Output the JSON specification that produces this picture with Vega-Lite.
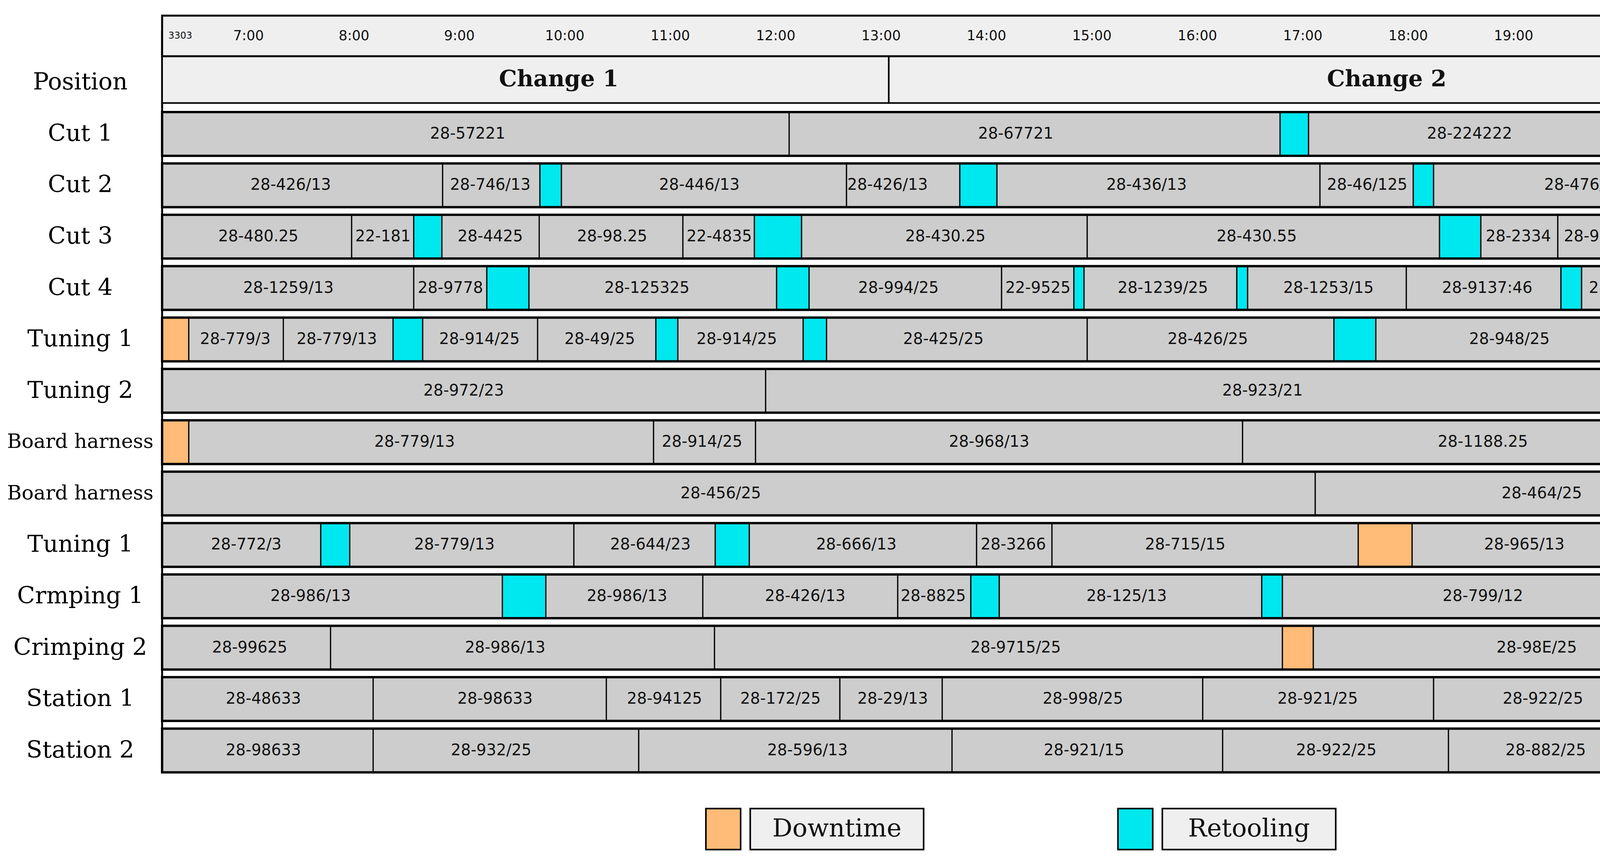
{
  "$schema": "https://vega.github.io/schema/vega-lite/v6.json",
  "width": 4302,
  "height": 2215,
  "autosize": {"type": "fit", "contains": "padding"},
  "padding": {"left": 0, "top": 14, "right": 26, "bottom": 34},
  "background": "white",
  "config": {
    "view": {"stroke": null},
    "axisY": {
      "domain": false, "ticks": false, "grid": false,
      "labelFont": "DejaVu Serif", "labelFontSize": 60, "labelColor": "#000",
      "labelAlign": "center", "labelBaseline": "middle", "labelPadding": 210,
      "labelLimit": 0, "minExtent": 415, "maxExtent": 415
    }
  },
  "datasets": {
    "ticks": [
      {"h": 6.352, "label": "3303"},
      {"h": 7, "label": "7:00"}, {"h": 8, "label": "8:00"}, {"h": 9, "label": "9:00"},
      {"h": 10, "label": "10:00"}, {"h": 11, "label": "11:00"}, {"h": 12, "label": "12:00"},
      {"h": 13, "label": "13:00"}, {"h": 14, "label": "14:00"}, {"h": 15, "label": "15:00"},
      {"h": 16, "label": "16:00"}, {"h": 17, "label": "17:00"}, {"h": 18, "label": "18:00"},
      {"h": 19, "label": "19:00"}, {"h": 20, "label": "21:00"}
    ],
    "changes": [
      {"name": "Change 1", "start": 6.18, "end": 13.073, "lx": 9.942},
      {"name": "Change 2", "start": 13.073, "end": 20.475, "lx": 17.796}
    ],
    "legend": [{"type": "Downtime"}, {"type": "Retooling"}],
    "tasks": [
      {"pos": "Cut 1", "start": 6.18, "end": 12.128, "type": "Job", "label": "28-57221", "lx": 9.079},
      {"pos": "Cut 1", "start": 12.128, "end": 16.785, "type": "Job", "label": "28-67721", "lx": 14.277},
      {"pos": "Cut 1", "start": 16.785, "end": 17.055, "type": "Retooling"},
      {"pos": "Cut 1", "start": 17.055, "end": 20.475, "type": "Job", "label": "28-224222", "lx": 18.582},

      {"pos": "Cut 2", "start": 6.18, "end": 8.841, "type": "Job", "label": "28-426/13", "lx": 7.4},
      {"pos": "Cut 2", "start": 8.841, "end": 9.764, "type": "Job", "label": "28-746/13", "lx": 9.293},
      {"pos": "Cut 2", "start": 9.764, "end": 9.968, "type": "Retooling"},
      {"pos": "Cut 2", "start": 9.968, "end": 12.672, "type": "Job", "label": "28-446/13", "lx": 11.276},
      {"pos": "Cut 2", "start": 12.672, "end": 13.747, "type": "Job", "label": "28-426/13", "lx": 13.061},
      {"pos": "Cut 2", "start": 13.747, "end": 14.099, "type": "Retooling"},
      {"pos": "Cut 2", "start": 14.099, "end": 17.163, "type": "Job", "label": "28-436/13", "lx": 15.518},
      {"pos": "Cut 2", "start": 17.163, "end": 18.048, "type": "Job", "label": "28-46/125", "lx": 17.611},
      {"pos": "Cut 2", "start": 18.048, "end": 18.241, "type": "Retooling"},
      {"pos": "Cut 2", "start": 18.241, "end": 20.201, "type": "Job", "label": "28-476/13", "lx": 19.671},
      {"pos": "Cut 2", "start": 20.201, "end": 20.475, "type": "Downtime"},

      {"pos": "Cut 3", "start": 6.18, "end": 7.978, "type": "Job", "label": "28-480.25", "lx": 7.093},
      {"pos": "Cut 3", "start": 7.978, "end": 8.567, "type": "Job", "label": "22-181", "lx": 8.275},
      {"pos": "Cut 3", "start": 8.567, "end": 8.834, "type": "Retooling"},
      {"pos": "Cut 3", "start": 8.834, "end": 9.757, "type": "Job", "label": "28-4425", "lx": 9.293},
      {"pos": "Cut 3", "start": 9.757, "end": 11.12, "type": "Job", "label": "28-98.25", "lx": 10.449},
      {"pos": "Cut 3", "start": 11.12, "end": 11.798, "type": "Job", "label": "22-4835", "lx": 11.465},
      {"pos": "Cut 3", "start": 11.798, "end": 12.246, "type": "Retooling"},
      {"pos": "Cut 3", "start": 12.246, "end": 14.955, "type": "Job", "label": "28-430.25", "lx": 13.61},
      {"pos": "Cut 3", "start": 14.955, "end": 18.297, "type": "Job", "label": "28-430.55", "lx": 16.563},
      {"pos": "Cut 3", "start": 18.297, "end": 18.689, "type": "Retooling"},
      {"pos": "Cut 3", "start": 18.689, "end": 19.419, "type": "Job", "label": "28-2334", "lx": 19.045},
      {"pos": "Cut 3", "start": 19.419, "end": 20.475, "type": "Job", "label": "28-9352:37", "lx": 19.905},

      {"pos": "Cut 4", "start": 6.18, "end": 8.567, "type": "Job", "label": "28-1259/13", "lx": 7.378},
      {"pos": "Cut 4", "start": 8.567, "end": 9.26, "type": "Job", "label": "28-9778", "lx": 8.915},
      {"pos": "Cut 4", "start": 9.26, "end": 9.66, "type": "Retooling"},
      {"pos": "Cut 4", "start": 9.66, "end": 12.009, "type": "Job", "label": "28-125325", "lx": 10.779},
      {"pos": "Cut 4", "start": 12.009, "end": 12.317, "type": "Retooling"},
      {"pos": "Cut 4", "start": 12.317, "end": 14.143, "type": "Job", "label": "28-994/25", "lx": 13.165},
      {"pos": "Cut 4", "start": 14.143, "end": 14.829, "type": "Job", "label": "22-9525", "lx": 14.488},
      {"pos": "Cut 4", "start": 14.829, "end": 14.925, "type": "Retooling"},
      {"pos": "Cut 4", "start": 14.925, "end": 16.374, "type": "Job", "label": "28-1239/25", "lx": 15.673},
      {"pos": "Cut 4", "start": 16.374, "end": 16.477, "type": "Retooling"},
      {"pos": "Cut 4", "start": 16.477, "end": 17.982, "type": "Job", "label": "28-1253/15", "lx": 17.244},
      {"pos": "Cut 4", "start": 17.982, "end": 19.449, "type": "Job", "label": "28-9137:46", "lx": 18.749},
      {"pos": "Cut 4", "start": 19.449, "end": 19.645, "type": "Retooling"},
      {"pos": "Cut 4", "start": 19.645, "end": 20.475, "type": "Job", "label": "28-9725", "lx": 20.023},

      {"pos": "Tuning 1", "start": 6.18, "end": 6.433, "type": "Downtime"},
      {"pos": "Tuning 1", "start": 6.433, "end": 7.33, "type": "Job", "label": "28-779/3", "lx": 6.874},
      {"pos": "Tuning 1", "start": 7.33, "end": 8.371, "type": "Job", "label": "28-779/13", "lx": 7.837},
      {"pos": "Tuning 1", "start": 8.371, "end": 8.652, "type": "Retooling"},
      {"pos": "Tuning 1", "start": 8.652, "end": 9.742, "type": "Job", "label": "28-914/25", "lx": 9.19},
      {"pos": "Tuning 1", "start": 9.742, "end": 10.864, "type": "Job", "label": "28-49/25", "lx": 10.331},
      {"pos": "Tuning 1", "start": 10.864, "end": 11.072, "type": "Retooling"},
      {"pos": "Tuning 1", "start": 11.072, "end": 12.261, "type": "Job", "label": "28-914/25", "lx": 11.631},
      {"pos": "Tuning 1", "start": 12.261, "end": 12.483, "type": "Retooling"},
      {"pos": "Tuning 1", "start": 12.483, "end": 14.955, "type": "Job", "label": "28-425/25", "lx": 13.591},
      {"pos": "Tuning 1", "start": 14.955, "end": 17.296, "type": "Job", "label": "28-426/25", "lx": 16.099},
      {"pos": "Tuning 1", "start": 17.296, "end": 17.693, "type": "Retooling"},
      {"pos": "Tuning 1", "start": 17.693, "end": 20.201, "type": "Job", "label": "28-948/25", "lx": 18.96},
      {"pos": "Tuning 1", "start": 20.201, "end": 20.475, "type": "Downtime"},

      {"pos": "Tuning 2", "start": 6.18, "end": 11.905, "type": "Job", "label": "28-972/23", "lx": 9.041},
      {"pos": "Tuning 2", "start": 11.905, "end": 20.475, "type": "Job", "label": "28-923/21", "lx": 16.618},

      {"pos": "Board harness", "start": 6.18, "end": 6.433, "type": "Downtime"},
      {"pos": "Board harness", "start": 6.433, "end": 10.842, "type": "Job", "label": "28-779/13", "lx": 8.575},
      {"pos": "Board harness", "start": 10.842, "end": 11.809, "type": "Job", "label": "28-914/25", "lx": 11.302},
      {"pos": "Board harness", "start": 11.809, "end": 16.429, "type": "Job", "label": "28-968/13", "lx": 14.025},
      {"pos": "Board harness", "start": 16.429, "end": 20.475, "type": "Job", "label": "28-1188.25", "lx": 18.708},

      {"pos": "Board harness#2", "start": 6.18, "end": 17.118, "type": "Job", "label": "28-456/25", "lx": 11.479},
      {"pos": "Board harness#2", "start": 17.118, "end": 20.475, "type": "Job", "label": "28-464/25", "lx": 19.267},

      {"pos": "Tuning 1#2", "start": 6.18, "end": 7.685, "type": "Job", "label": "28-772/3", "lx": 6.978},
      {"pos": "Tuning 1#2", "start": 7.685, "end": 7.96, "type": "Retooling"},
      {"pos": "Tuning 1#2", "start": 7.96, "end": 10.086, "type": "Job", "label": "28-779/13", "lx": 8.953},
      {"pos": "Tuning 1#2", "start": 10.086, "end": 11.427, "type": "Job", "label": "28-644/23", "lx": 10.812},
      {"pos": "Tuning 1#2", "start": 11.427, "end": 11.75, "type": "Retooling"},
      {"pos": "Tuning 1#2", "start": 11.75, "end": 13.906, "type": "Job", "label": "28-666/13", "lx": 12.765},
      {"pos": "Tuning 1#2", "start": 13.906, "end": 14.621, "type": "Job", "label": "28-3266", "lx": 14.254},
      {"pos": "Tuning 1#2", "start": 14.621, "end": 17.526, "type": "Job", "label": "28-715/15", "lx": 15.885},
      {"pos": "Tuning 1#2", "start": 17.526, "end": 18.037, "type": "Downtime"},
      {"pos": "Tuning 1#2", "start": 18.037, "end": 19.964, "type": "Job", "label": "28-965/13", "lx": 19.101},
      {"pos": "Tuning 1#2", "start": 19.964, "end": 20.475, "type": "Job", "label": "28-96", "lx": 20.215},

      {"pos": "Crmping 1", "start": 6.18, "end": 9.408, "type": "Job", "label": "28-986/13", "lx": 7.589},
      {"pos": "Crmping 1", "start": 9.408, "end": 9.82, "type": "Retooling"},
      {"pos": "Crmping 1", "start": 9.82, "end": 11.309, "type": "Job", "label": "28-986/13", "lx": 10.59},
      {"pos": "Crmping 1", "start": 11.309, "end": 13.158, "type": "Job", "label": "28-426/13", "lx": 12.28},
      {"pos": "Crmping 1", "start": 13.158, "end": 13.851, "type": "Job", "label": "28-8825", "lx": 13.495},
      {"pos": "Crmping 1", "start": 13.851, "end": 14.121, "type": "Retooling"},
      {"pos": "Crmping 1", "start": 14.121, "end": 16.611, "type": "Job", "label": "28-125/13", "lx": 15.329},
      {"pos": "Crmping 1", "start": 16.611, "end": 16.807, "type": "Retooling"},
      {"pos": "Crmping 1", "start": 16.807, "end": 20.201, "type": "Job", "label": "28-799/12", "lx": 18.708},
      {"pos": "Crmping 1", "start": 20.201, "end": 20.475, "type": "Job"},

      {"pos": "Crimping 2", "start": 6.18, "end": 7.778, "type": "Job", "label": "28-99625", "lx": 7.011},
      {"pos": "Crimping 2", "start": 7.778, "end": 11.42, "type": "Job", "label": "28-986/13", "lx": 9.434},
      {"pos": "Crimping 2", "start": 11.42, "end": 16.807, "type": "Job", "label": "28-9715/25", "lx": 14.277},
      {"pos": "Crimping 2", "start": 16.807, "end": 17.1, "type": "Downtime"},
      {"pos": "Crimping 2", "start": 17.1, "end": 20.475, "type": "Job", "label": "28-98E/25", "lx": 19.219},

      {"pos": "Station 1", "start": 6.18, "end": 8.182, "type": "Job", "label": "28-48633", "lx": 7.141},
      {"pos": "Station 1", "start": 8.182, "end": 10.394, "type": "Job", "label": "28-98633", "lx": 9.338},
      {"pos": "Station 1", "start": 10.394, "end": 11.479, "type": "Job", "label": "28-94125", "lx": 10.946},
      {"pos": "Station 1", "start": 11.479, "end": 12.609, "type": "Job", "label": "28-172/25", "lx": 12.046},
      {"pos": "Station 1", "start": 12.609, "end": 13.58, "type": "Job", "label": "28-29/13", "lx": 13.11},
      {"pos": "Station 1", "start": 13.58, "end": 16.051, "type": "Job", "label": "28-998/25", "lx": 14.914},
      {"pos": "Station 1", "start": 16.051, "end": 18.241, "type": "Job", "label": "28-921/25", "lx": 17.141},
      {"pos": "Station 1", "start": 18.241, "end": 20.201, "type": "Job", "label": "28-922/25", "lx": 19.278},
      {"pos": "Station 1", "start": 20.201, "end": 20.475, "type": "Downtime"},

      {"pos": "Station 2", "start": 6.18, "end": 8.182, "type": "Job", "label": "28-98633", "lx": 7.141},
      {"pos": "Station 2", "start": 8.182, "end": 10.701, "type": "Job", "label": "28-932/25", "lx": 9.301},
      {"pos": "Station 2", "start": 10.701, "end": 13.673, "type": "Job", "label": "28-596/13", "lx": 12.302},
      {"pos": "Station 2", "start": 13.673, "end": 16.24, "type": "Job", "label": "28-921/15", "lx": 14.925},
      {"pos": "Station 2", "start": 16.24, "end": 18.382, "type": "Job", "label": "28-922/25", "lx": 17.318},
      {"pos": "Station 2", "start": 18.382, "end": 19.86, "type": "Job", "label": "28-882/25", "lx": 19.304},
      {"pos": "Station 2", "start": 19.86, "end": 20.475, "type": "Downtime"}
    ]
  },
  "resolve": {"scale": {"x": "independent"}},
  "layer": [
    {
      "data": {"name": "tasks"},
      "mark": {"type": "bar", "height": 112, "stroke": "black", "strokeWidth": 3},
      "encoding": {
        "x": {"field": "start", "type": "quantitative", "scale": {"domain": [6.18, 20.475], "nice": false, "zero": false}, "axis": null},
        "x2": {"field": "end"},
        "y": {
          "field": "pos", "type": "nominal", "sort": null, "title": null,
          "scale": {
            "domain": ["time", "Position", "Cut 1", "Cut 2", "Cut 3", "Cut 4", "Tuning 1", "Tuning 2", "Board harness", "Board harness#2", "Tuning 1#2", "Crmping 1", "Crimping 2", "Station 1", "Station 2", "legend"],
            "paddingInner": 0, "paddingOuter": 0
          },
          "axis": {
            "title": null,
            "labelExpr": "datum.value == 'time' || datum.value == 'legend' ? '' : split(datum.value, '#')[0]",
            "labelFontSize": {"condition": {"test": "indexof(datum.value, 'Board') == 0", "value": 51}, "value": 60}
          }
        },
        "color": {
          "field": "type", "type": "nominal",
          "scale": {"domain": ["Job", "Downtime", "Retooling"], "range": ["#cdcdcd", "#ffbb77", "#00e8ef"]},
          "legend": null
        }
      }
    },
    {
      "data": {"values": [{"edge": 6.18}, {"edge": 20.475}]},
      "mark": {"type": "rule", "stroke": "black", "strokeWidth": 5},
      "encoding": {
        "x": {"field": "edge", "type": "quantitative", "scale": {"domain": [6.18, 20.475], "nice": false, "zero": false}, "axis": null},
        "y": {"datum": "time", "type": "nominal", "title": null},
        "y2": {"datum": "Station 2"}
      }
    },
    {
      "data": {"name": "tasks"},
      "transform": [{"aggregate": [{"op": "count", "as": "n"}], "groupby": ["pos"]}],
      "mark": {"type": "bar", "height": 112, "fill": "white", "fillOpacity": 0, "stroke": "black", "strokeWidth": 6},
      "encoding": {
        "x": {"datum": 6.18, "type": "quantitative", "scale": {"domain": [6.18, 20.475], "nice": false, "zero": false}, "axis": null},
        "x2": {"datum": 20.475},
        "y": {"field": "pos", "type": "nominal", "title": null}
      }
    },
    {
      "data": {"name": "tasks"},
      "transform": [{"filter": "isValid(datum.label)"}],
      "mark": {"type": "text", "font": "DejaVu Sans", "fontSize": 40, "color": "#111", "baseline": "middle"},
      "encoding": {
        "x": {"field": "lx", "type": "quantitative", "scale": {"domain": [6.18, 20.475], "nice": false, "zero": false}, "axis": null},
        "y": {"field": "pos", "type": "nominal", "title": null},
        "text": {"field": "label"}
      }
    },
    {
      "data": {"name": "changes"},
      "mark": {"type": "bar", "height": 120, "yOffset": -7.7, "fill": "#efefef", "stroke": "black", "strokeWidth": 4},
      "encoding": {
        "x": {"field": "start", "type": "quantitative", "scale": {"domain": [6.18, 20.475], "nice": false, "zero": false}, "axis": null},
        "x2": {"field": "end"},
        "y": {"datum": "Position", "type": "nominal", "title": null}
      }
    },
    {
      "data": {"name": "changes"},
      "mark": {"type": "text", "font": "DejaVu Serif", "fontSize": 58, "fontWeight": "bold", "color": "#111", "baseline": "middle", "yOffset": -7.7},
      "encoding": {
        "x": {"field": "lx", "type": "quantitative", "scale": {"domain": [6.18, 20.475], "nice": false, "zero": false}, "axis": null},
        "y": {"datum": "Position", "type": "nominal", "title": null},
        "text": {"field": "name"}
      }
    },
    {
      "data": {"values": [{"from": 6.18, "to": 20.475}]},
      "mark": {"type": "bar", "height": 104, "yOffset": 12.1, "fill": "#efefef", "stroke": "black", "strokeWidth": 5},
      "encoding": {
        "x": {"field": "from", "type": "quantitative", "scale": {"domain": [6.18, 20.475], "nice": false, "zero": false}, "axis": null},
        "x2": {"field": "to"},
        "y": {"datum": "time", "type": "nominal", "title": null}
      }
    },
    {
      "data": {"name": "ticks"},
      "mark": {"type": "text", "font": "DejaVu Sans", "color": "#111", "baseline": "middle", "align": "center", "yOffset": 12.1},
      "encoding": {
        "x": {"field": "h", "type": "quantitative", "scale": {"domain": [6.18, 20.475], "nice": false, "zero": false}, "axis": null},
        "y": {"datum": "time", "type": "nominal", "title": null},
        "text": {"field": "label"},
        "size": {"condition": {"test": "datum.label === '3303'", "value": 24}, "value": 35}
      }
    },
    {
      "data": {"name": "legend"},
      "mark": {"type": "point", "shape": "M-2.633,-0.5H-1.786V0.5H-2.633Z", "size": 44100, "filled": true, "opacity": 1, "stroke": "black", "strokeWidth": 4, "yOffset": 69.9},
      "encoding": {
        "x": {"field": "type", "type": "nominal", "scale": {"type": "point", "domain": ["Downtime", "Retooling", "_"], "padding": 0.8285, "align": 0.9545}, "axis": null},
        "y": {"datum": "legend", "type": "nominal", "title": null},
        "color": {"field": "type", "type": "nominal", "scale": {"domain": ["Job", "Downtime", "Retooling"], "range": ["#cdcdcd", "#ffbb77", "#00e8ef"]}, "legend": null}
      }
    },
    {
      "data": {"name": "legend"},
      "mark": {"type": "point", "shape": "M-1.552,-0.5H2.676V0.5H-1.552Z", "size": 44100, "filled": true, "opacity": 1, "fill": "#efefef", "stroke": "black", "strokeWidth": 4, "yOffset": 69.9},
      "encoding": {
        "x": {"field": "type", "type": "nominal", "scale": {"type": "point", "domain": ["Downtime", "Retooling", "_"], "padding": 0.8285, "align": 0.9545}, "axis": null},
        "y": {"datum": "legend", "type": "nominal", "title": null}
      }
    },
    {
      "data": {"name": "legend"},
      "mark": {"type": "text", "font": "DejaVu Serif", "fontSize": 64, "color": "#111", "xOffset": 59, "yOffset": 69.9, "baseline": "middle"},
      "encoding": {
        "x": {"field": "type", "type": "nominal", "scale": {"type": "point", "domain": ["Downtime", "Retooling", "_"], "padding": 0.8285, "align": 0.9545}, "axis": null},
        "y": {"datum": "legend", "type": "nominal", "title": null},
        "text": {"field": "type"}
      }
    }
  ]
}
